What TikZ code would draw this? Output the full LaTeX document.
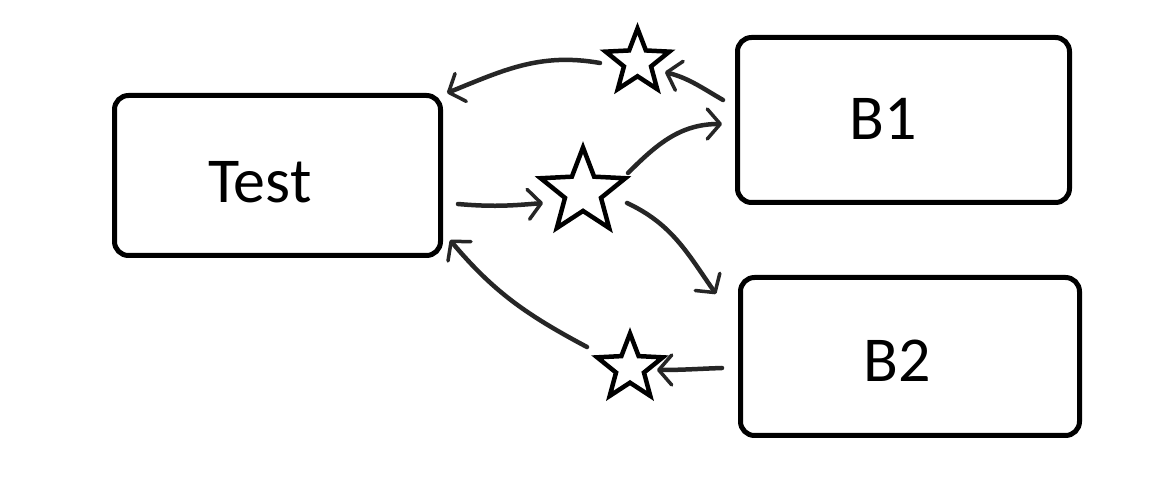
\documentclass[tikz,border=0pt]{standalone}
\usepackage{fontspec}
\setmainfont{Carlito}
\usetikzlibrary{shapes.geometric,arrows.meta,calc}

\tikzset{
  box/.style={draw, line width=5pt, rounded corners=14pt, outer sep=0pt,
    inner sep=0pt},
  lbl/.style={anchor=base, inner sep=0pt,
    font=\fontsize{64}{70}\selectfont},
  starnode/.style={draw, star, star points=5, star point ratio=2.35,
    inner sep=0pt, outer sep=0pt, line width=4.5pt, fill=white},
  link/.style={draw=black!85, line width=4.5pt, line cap=round,
    -{Straight Barb[length=13pt,width=30pt,line width=3.5pt,round]}},
}

\begin{document}
\begin{tikzpicture}[x=1pt,y=1pt]
  \useasboundingbox[fill=white] (0,0) rectangle (1152,479);

  % boxes and their captions
  \node[box, minimum width=326pt, minimum height=160pt] (test) at (277.5,303.5) {};
  \node[box, minimum width=332pt, minimum height=165pt] (b1) at (903.5,359) {};
  \node[box, minimum width=339pt, minimum height=158pt] (b2) at (910,122.5) {};
  \node[lbl] (testlbl) at (260,276) {Test};
  \node[lbl] (b1lbl) at (883,339) {B1};
  \node[lbl] (b2lbl) at (897,97) {B2};

  % stars between the boxes
  \node[starnode, minimum size=67pt] (s1) at (637.5,417) {};
  \node[starnode, minimum size=89pt] (s2) at (583,287) {};
  \node[starnode, minimum size=69pt] (s3) at (630,111) {};

  % connectors
  \draw[link] ($(s1)+(-37.5,-1)$) to[out=170,in=22] ($(test.north east)+(6.5,2.5)$);
  \draw[link] ($(b1.west)+(-14.5,20)$) to[out=150,in=-15] ($(s1)+(27.5,-10)$);
  \draw[link] ($(s2)+(45,19)$) to[out=45,in=180] ($(b1.west)+(-15.5,-4)$);
  \draw[link] ($(test.east)+(17.5,-28.5)$) to[out=-5,in=185] ($(s2)+(-40,-11)$);
  \draw[link] ($(s2)+(44,-11)$) to[out=-25,in=125] ($(b2.north west)+(-24.5,-16.5)$);
  \draw[link] ($(s3)+(-43,21)$) to[out=152,in=-50] ($(test.south east)+(9.5,15.5)$);
  \draw[link] ($(b2.west)+(-18.5,-11.5)$) to[out=182,in=0] ($(s3)+(27,-2)$);
\end{tikzpicture}
\end{document}
